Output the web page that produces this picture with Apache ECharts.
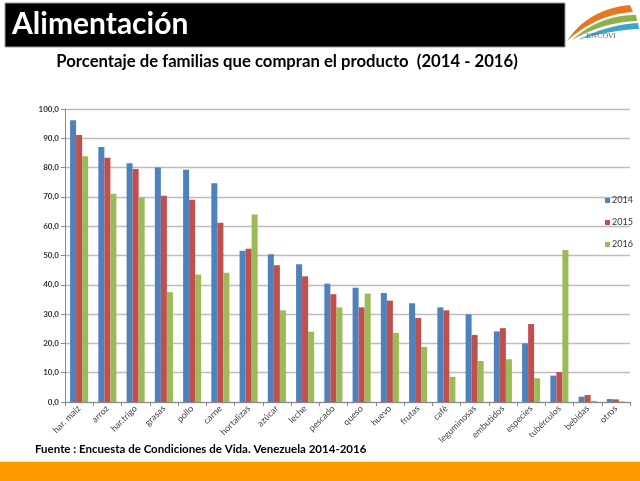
<!DOCTYPE html>
<html>
<head>
<meta charset="utf-8">
<script src="https://cdn.jsdelivr.net/npm/echarts@6/dist/echarts.min.js"></script>
<style>
html,body{margin:0;padding:0;background:#fff;}
#c{width:640px;height:481px;}
</style>
</head>
<body>
<div id="c"></div>
<script>
const categories = ['har. maíz','arroz','har.trigo','grasas','pollo','carne','hortalizas','azúcar','leche','pescado','queso','huevo','frutas','café','leguminosas','embutidos','especies','tubérculos','bebidas','otros'];
const seriesNames = ['2014','2015','2016'];
const values2014 = [96.2,87.0,81.5,80.0,79.3,74.7,51.6,50.4,47.0,40.4,39.0,37.2,33.7,32.3,29.9,24.1,20.0,9.0,1.8,1.0];
const values2015 = [91.1,83.4,79.5,70.4,69.0,61.2,52.3,46.7,42.9,36.8,32.3,34.6,28.7,31.3,22.9,25.2,26.6,10.2,2.4,0.9];
const values2016 = [83.9,71.1,69.7,37.5,43.5,44.1,64.0,31.3,24.0,32.3,37.0,23.6,18.8,8.6,14.0,14.6,8.1,51.9,0.4,0.2];
const yTicks = {min:0, max:100, interval:10};

const colors = ['#4F81BD','#C0504D','#9BBB59'];
const font = 'Lato, "Open Sans", sans-serif';
const chart = echarts.init(document.getElementById('c'));
const seriesData = [values2014, values2015, values2016];

// decorative logo crescent built from two quadratic curves
function quad(p0,p1,p2,n){
  const pts=[];
  for(let i=0;i<=n;i++){const t=i/n;const a=(1-t)*(1-t),b=2*(1-t)*t,c=t*t;
    pts.push([a*p0[0]+b*p1[0]+c*p2[0], a*p0[1]+b*p1[1]+c*p2[1]]);}
  return pts;
}
function crescent(start, outerCtrl, outerEnd, innerEnd, innerCtrl){
  const outer = quad(start, outerCtrl, outerEnd, 20);
  const inner = quad(innerEnd, innerCtrl, start, 20);
  return outer.concat(inner);
}

chart.setOption({
  animation:false,
  color: colors,
  textStyle:{fontFamily:font},
  grid:{left:65, right:10, top:109, bottom:79, containLabel:false},
  legend:{
    orient:'vertical', left:600, top:191, itemWidth:5, itemHeight:5, itemGap:13,
    icon:'rect', textStyle:{fontSize:9, color:'#333', fontFamily:font, padding:[0,0,0,-3]},
    itemStyle:{borderWidth:0}, data:seriesNames
  },
  xAxis:{
    type:'category', data:categories,
    axisLine:{lineStyle:{color:'#888', width:1}},
    axisTick:{show:true, length:4, lineStyle:{color:'#888'}},
    axisLabel:{rotate:45, interval:0, fontSize:9, color:'#404040', margin:5, fontFamily:font}
  },
  yAxis:{
    type:'value', min:yTicks.min, max:yTicks.max, interval:yTicks.interval,
    axisLine:{show:true, lineStyle:{color:'#888'}},
    axisTick:{show:true, length:4, lineStyle:{color:'#888'}},
    splitLine:{lineStyle:{color:'#BDBDBD', width:1.3}},
    axisLabel:{fontSize:8, color:'#333', margin:6, fontWeight:'bold', fontFamily:font,
      formatter:v=>v.toFixed(1).replace('.',',')}
  },
  series: seriesNames.map((n,i)=>({
    name:n, type:'bar', data:seriesData[i],
    barGap:'0%', barCategoryGap:'36%'
  })),
  graphic:[
    {type:'rect', shape:{x:5,y:3,width:560,height:44}, style:{fill:'#000', stroke:'#999', lineWidth:1}},
    {type:'text', x:12, y:9, style:{text:'Alimentación', fill:'#fff', font:'bold 30px '+font}},
    {type:'polygon', shape:{points:crescent([567,41],[588,9],[630,5],[633,12],[597,14])}, style:{fill:'#E87722'}},
    {type:'polygon', shape:{points:crescent([572,40],[600,15],[636,15],[637,21],[604,22])}, style:{fill:'#8DB04A'}},
    {type:'polygon', shape:{points:crescent([578,40],[606,25],[638,23],[639,29],[611,30])}, style:{fill:'#3FA3C8'}},
    {type:'text', x:601, y:33, style:{text:'ENCOVI', fill:'#666', font:'7px "DejaVu Serif", serif', textAlign:'center'}},
    {type:'text', x:287, y:53, style:{text:'Porcentaje de familias que compran el producto  (2014 - 2016)', fill:'#000', font:'bold 16.7px '+font, textAlign:'center'}},
    {type:'text', x:35, y:443, style:{text:'Fuente : Encuesta de Condiciones de Vida. Venezuela 2014-2016', fill:'#000', font:'bold 11.5px '+font}},
    {type:'rect', shape:{x:0,y:461,width:640,height:1}, style:{fill:'#F3E0C8'}},
    {type:'rect', shape:{x:0,y:462,width:640,height:19}, style:{fill:'#FF9900'}}
  ]
});
</script>
</body>
</html>
